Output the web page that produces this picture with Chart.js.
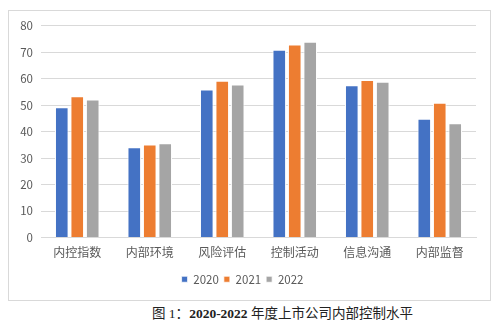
<!DOCTYPE html>
<html>
<head>
<meta charset="utf-8">
<script src="https://cdn.jsdelivr.net/npm/chart.js@4"></script>
<style>
body { margin: 0; background: #fff; width: 503px; height: 326px; position: relative; overflow: hidden; }
#box { position: absolute; left: 8px; top: 10px; width: 481px; height: 289px; border: 1px solid #d9d9d9; }
#caption { position: absolute; left: 152px; top: 302px; font-family: "Liberation Serif", "Noto Sans CJK SC", serif; font-size: 13.5px; color: #222; white-space: nowrap; }
</style>
</head>
<body>
<div id="box"><canvas id="myChart" width="481" height="289"></canvas></div>
<div id="caption">图 1：<b>2020-2022</b> 年度上市公司内部控制水平</div>
<script>
const categories = ['内控指数', '内部环境', '风险评估', '控制活动', '信息沟通', '内部监督'];
const years = ['2020', '2021', '2022'];
const values2020 = [49.2, 34.1, 56.0, 71.0, 57.6, 44.9];
const values2021 = [53.4, 35.2, 59.3, 73.0, 59.5, 50.9];
const values2022 = [52.2, 35.6, 57.8, 74.0, 58.9, 43.2];
const colors = ['#4472C4', '#ED7D31', '#A5A5A5'];

Chart.defaults.font.family = '"Noto Sans CJK SC", "Liberation Sans", sans-serif';
Chart.defaults.color = '#595959';

const ctx = document.getElementById('myChart').getContext('2d');
const myChart = new Chart(ctx, {
    type: 'bar',
    data: {
        labels: categories,
        datasets: [values2020, values2021, values2022].map((d, i) => ({
            label: years[i],
            data: d,
            backgroundColor: colors[i],
            borderColor: '#ffffff',
            borderWidth: { left: 1, right: 1, top: 1 },
            categoryPercentage: 0.64,
            barPercentage: 0.88
        }))
    },
    options: {
        responsive: false,
        animation: false,
        layout: { padding: { left: 0, right: 14, top: 12, bottom: 5 } },
        scales: {
            x: {
                grid: { display: false },
                border: { color: '#d9d9d9' },
                ticks: { font: { size: 12 }, padding: 0, maxRotation: 0, autoSkip: false },
                afterFit: (a) => { a.height = 31; }
            },
            y: {
                min: 0, max: 80,
                ticks: { stepSize: 10, font: { size: 11.5 }, padding: 8 },
                grid: { color: '#d9d9d9', drawTicks: false },
                border: { display: false },
                afterFit: (a) => { a.width = 32; }
            }
        },
        plugins: {
            legend: {
                position: 'bottom',
                labels: { boxWidth: 6, boxHeight: 6, font: { size: 11.5 }, padding: 5, color: '#595959' }
            },
            tooltip: { enabled: false }
        }
    }
});
</script>
</body>
</html>
